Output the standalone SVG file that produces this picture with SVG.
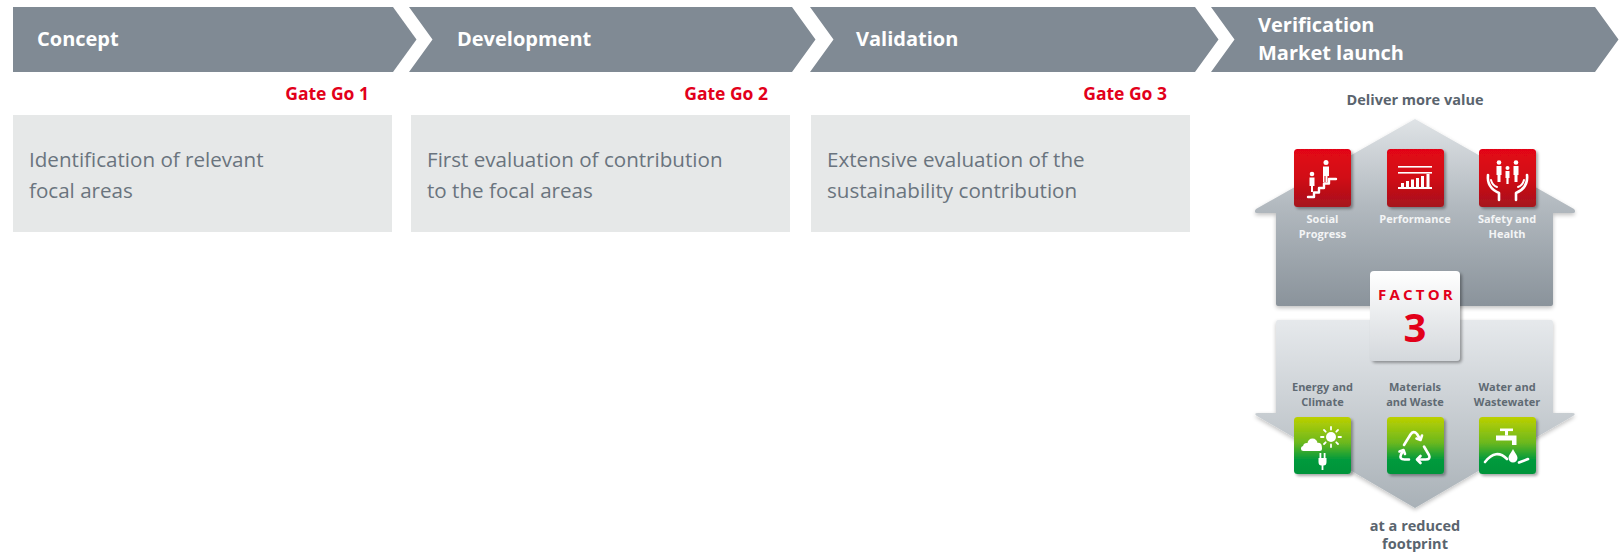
<svg xmlns="http://www.w3.org/2000/svg" width="1621" height="554" viewBox="0 0 1621 554">
<defs>
  <linearGradient id="gHouse" x1="0" y1="0" x2="0" y2="1">
    <stop offset="0" stop-color="#dfe3e6"/>
    <stop offset="0.45" stop-color="#b3bac0"/>
    <stop offset="1" stop-color="#8a939b"/>
  </linearGradient>
  <linearGradient id="gArrow" x1="0" y1="0" x2="0" y2="1">
    <stop offset="0" stop-color="#e6e9ec"/>
    <stop offset="1" stop-color="#a9b1b7"/>
  </linearGradient>
  <linearGradient id="gRed" x1="0" y1="0" x2="0" y2="1">
    <stop offset="0" stop-color="#e30613"/>
    <stop offset="0.5" stop-color="#d10a16"/>
    <stop offset="1" stop-color="#a5141c"/>
  </linearGradient>
  <linearGradient id="gGreen" x1="0" y1="0" x2="0" y2="1">
    <stop offset="0" stop-color="#bcd000"/>
    <stop offset="0.45" stop-color="#6cb81e"/>
    <stop offset="0.75" stop-color="#009a3c"/>
    <stop offset="1" stop-color="#00943a"/>
  </linearGradient>
  <linearGradient id="gFactor" x1="0" y1="0" x2="0" y2="1">
    <stop offset="0" stop-color="#ffffff"/>
    <stop offset="1" stop-color="#d4d8dc"/>
  </linearGradient>
  <filter id="shadow" x="-20%" y="-20%" width="150%" height="150%">
    <feGaussianBlur in="SourceAlpha" stdDeviation="1.6"/>
    <feOffset dx="1.5" dy="2" result="b"/>
    <feComponentTransfer><feFuncA type="linear" slope="0.35"/></feComponentTransfer>
    <feMerge><feMergeNode/><feMergeNode in="SourceGraphic"/></feMerge>
  </filter>
  <filter id="shadowSoft" x="-10%" y="-10%" width="120%" height="125%">
    <feGaussianBlur in="SourceAlpha" stdDeviation="2"/>
    <feOffset dx="0" dy="2"/>
    <feComponentTransfer><feFuncA type="linear" slope="0.25"/></feComponentTransfer>
    <feMerge><feMergeNode/><feMergeNode in="SourceGraphic"/></feMerge>
  </filter>
</defs>
<style>
  .chev { fill: #808a94; }
  .phase { font-family: "Open Sans", "Liberation Sans", sans-serif; font-weight: 700; font-size: 20px; fill: #ffffff; }
  .gate { font-family: "Open Sans", "Liberation Sans", sans-serif; font-weight: 700; font-size: 17.5px; fill: #e2001a; text-anchor: end; }
  .box { fill: #e6e8e8; }
  .boxtxt { font-family: "Open Sans", "Liberation Sans", sans-serif; font-weight: 400; font-size: 20.6px; fill: #6a747e; }
  .head { font-family: "Open Sans", "Liberation Sans", sans-serif; font-weight: 700; font-size: 14.5px; fill: #5a646e; text-anchor: middle; }
  .lblW { font-family: "Open Sans", "Liberation Sans", sans-serif; font-weight: 700; font-size: 11px; fill: #f3f4f5; text-anchor: middle; }
  .lblD { font-family: "Open Sans", "Liberation Sans", sans-serif; font-weight: 700; font-size: 11px; fill: #5f6a73; text-anchor: middle; }
  .ico { stroke: #ffffff; fill: none; stroke-linecap: round; stroke-linejoin: round; }
  .icf { fill: #ffffff; }
</style>

<g id="phase-concept">
  <path class="chev" d="M13,7 H393 L416.5,39.5 L393,72 H13 Z"/>
  <text class="phase" x="37" y="46">Concept</text>
</g>
<g id="phase-development">
  <path class="chev" d="M409,7 H792 L815.5,39.5 L792,72 H409 L432.5,39.5 Z"/>
  <text class="phase" x="457" y="46">Development</text>
</g>
<g id="phase-validation">
  <path class="chev" d="M810,7 H1195 L1218.5,39.5 L1195,72 H810 L833.5,39.5 Z"/>
  <text class="phase" x="856" y="46">Validation</text>
</g>
<g id="phase-verification">
  <path class="chev" d="M1211,7 H1595 L1618.5,39.5 L1595,72 H1211 L1234.5,39.5 Z"/>
  <text class="phase" x="1258" y="32">Verification</text>
  <text class="phase" x="1258" y="60">Market launch</text>
</g>

<g id="gate-1"><text class="gate" x="369" y="100">Gate Go 1</text></g>
<g id="gate-2"><text class="gate" x="768" y="100">Gate Go 2</text></g>
<g id="gate-3"><text class="gate" x="1167" y="100">Gate Go 3</text></g>

<g id="box-concept">
  <rect class="box" x="13" y="115" width="379" height="117"/>
  <text class="boxtxt" x="29" y="167">Identification of relevant</text>
  <text class="boxtxt" x="29" y="198">focal areas</text>
</g>
<g id="box-development">
  <rect class="box" x="411" y="115" width="379" height="117"/>
  <text class="boxtxt" x="427" y="167">First evaluation of contribution</text>
  <text class="boxtxt" x="427" y="198">to the focal areas</text>
</g>
<g id="box-validation">
  <rect class="box" x="811" y="115" width="379" height="117"/>
  <text class="boxtxt" x="827" y="167">Extensive evaluation of the</text>
  <text class="boxtxt" x="827" y="198">sustainability contribution</text>
</g>

<g id="connectors"></g>

<g id="factor3-graphic">
  <text class="head" x="1415" y="105">Deliver more value</text>
  <path id="house" filter="url(#shadowSoft)" fill="url(#gHouse)" d="M1415,119 L1574,209 Q1577,213 1572,213 L1553,213 L1553,304 Q1553,306 1551,306 L1278,306 Q1276,306 1276,304 L1276,213 L1258,213 Q1253,213 1256,209 Z"/>
  <path id="arrow" filter="url(#shadowSoft)" fill="url(#gArrow)" d="M1278,320 L1551,320 Q1553,320 1553,322 L1553,413 L1572,413 Q1577,413 1573,416 L1415,508 L1257,416 Q1253,413 1258,413 L1276,413 L1276,322 Q1276,320 1278,320 Z"/>

  <g id="icon-social-progress" transform="translate(1294,149)">
    <rect width="57" height="58" rx="3.5" fill="url(#gRed)" filter="url(#shadow)"/>
    <path class="ico" stroke-width="2.4" d="M14,48 H20 V43.5 H25 V39 H30 V34.5 H35 V30 H42"/>
    <circle class="icf" cx="18" cy="25" r="2.3"/>
    <path class="icf" d="M15.5,28.5 H20.5 V37 H19 V43 H17 V37 H15.5 Z"/>
    <circle class="icf" cx="32" cy="13.5" r="2.5"/>
    <path class="icf" d="M29,17.5 H35 V27 H33.5 V33 H31.5 V27 H30.5 V33 H29 Z"/>
  </g>
  <g id="icon-performance" transform="translate(1387,149)">
    <rect width="57" height="58" rx="3.5" fill="url(#gRed)" filter="url(#shadow)"/>
    <rect class="icf" x="11" y="17" width="34" height="1.6"/>
    <rect class="icf" x="11" y="23" width="34" height="1.6"/>
    <rect class="icf" x="11" y="38" width="34" height="2"/>
    <rect class="icf" x="14" y="34" width="3" height="4"/>
    <rect class="icf" x="19" y="32" width="3" height="6"/>
    <rect class="icf" x="24" y="30.5" width="3" height="7.5"/>
    <rect class="icf" x="29" y="29" width="3" height="9"/>
    <rect class="icf" x="34" y="27" width="3" height="11"/>
    <rect class="icf" x="39.5" y="25" width="3" height="13"/>
  </g>
  <g id="icon-safety-health" transform="translate(1479,149)">
    <rect width="57" height="58" rx="3.5" fill="url(#gRed)" filter="url(#shadow)"/>
    <circle class="icf" cx="20" cy="13.5" r="2.3"/>
    <path class="icf" d="M17.5,17 H22.5 V26 H21.5 V33 H18.5 V26 H17.5 Z"/>
    <circle class="icf" cx="28.5" cy="19" r="2"/>
    <path class="icf" d="M26.5,22 H30.5 V29 H29.6 V35 H27.4 V29 H26.5 Z"/>
    <circle class="icf" cx="37" cy="13.5" r="2.3"/>
    <path class="icf" d="M34.5,17 H39.5 V26 H38.5 V33 H35.5 V26 H34.5 Z"/>
    <path class="ico" stroke-width="2.6" d="M9,26 C8,35 13,41 20,44 V51"/>
    <path class="ico" stroke-width="2" d="M12,31 C13,35 15,37 18,38"/>
    <path class="ico" stroke-width="2.6" d="M48,26 C49,35 44,41 37,44 V51"/>
    <path class="ico" stroke-width="2" d="M45,31 C44,35 42,37 39,38"/>
  </g>
  <text class="lblW" x="1322.5" y="223">Social</text>
  <text class="lblW" x="1322.5" y="238">Progress</text>
  <text class="lblW" x="1415" y="223">Performance</text>
  <text class="lblW" x="1507" y="223">Safety and</text>
  <text class="lblW" x="1507" y="238">Health</text>

  <g id="factor-box" filter="url(#shadow)">
    <rect x="1370" y="271" width="90" height="90" rx="4" fill="url(#gFactor)"/>
  </g>
  <text x="1417" y="300" font-family="'Open Sans', 'Liberation Sans', sans-serif" font-weight="700" font-size="15" letter-spacing="3.2" fill="#e2001a" text-anchor="middle">FACTOR</text>
  <text x="1415" y="342" font-family="'Open Sans', 'Liberation Sans', sans-serif" font-weight="700" font-size="40" fill="#e2001a" text-anchor="middle">3</text>

  <text class="lblD" x="1322.5" y="391">Energy and</text>
  <text class="lblD" x="1322.5" y="406">Climate</text>
  <text class="lblD" x="1415" y="391">Materials</text>
  <text class="lblD" x="1415" y="406">and Waste</text>
  <text class="lblD" x="1507" y="391">Water and</text>
  <text class="lblD" x="1507" y="406">Wastewater</text>

  <g id="icon-energy-climate" transform="translate(1294,417)">
    <rect width="57" height="57" rx="3.5" fill="url(#gGreen)" filter="url(#shadow)"/>
    <circle class="icf" cx="13" cy="30" r="4"/>
    <circle class="icf" cx="18.5" cy="26.5" r="5"/>
    <circle class="icf" cx="24" cy="29.5" r="3.8"/>
    <rect class="icf" x="7" y="29" width="21" height="5" rx="2.5"/>
    <circle class="icf" cx="37" cy="20" r="5"/>
    <g class="ico" stroke-width="1.8">
      <path d="M37,10 V12.5 M37,27.5 V30 M27,20 H29.5 M44.5,20 H47 M30,13 L31.7,14.7 M42.3,25.3 L44,27 M44,13 L42.3,14.7 M31.7,25.3 L30,27"/>
    </g>
    <path class="icf" d="M24.5,41 H32.5 V45 Q32.5,48.5 29.5,48.5 H27.5 Q24.5,48.5 24.5,45 Z"/>
    <rect class="icf" x="25.5" y="36" width="1.8" height="5"/>
    <rect class="icf" x="29.7" y="36" width="1.8" height="5"/>
    <rect class="icf" x="27.6" y="48" width="1.8" height="5"/>
  </g>
  <g id="icon-materials-waste" transform="translate(1387,417)">
    <rect width="57" height="57" rx="3.5" fill="url(#gGreen)" filter="url(#shadow)"/>
    <g class="ico" stroke-width="2.6">
      <path d="M17,28 L23.5,17.5 Q26.5,13 30,17 L33,22"/>
      <path d="M29.5,21.5 L33.5,23 L35,18.5"/>
      <path d="M37,29.5 L42,38 Q44,42.5 38.5,42.5 L31,42.5"/>
      <path d="M33.5,39 L30,42.5 L33.5,46"/>
      <path d="M22,42.5 H17.5 Q12,42.5 14,37.5 L16,34"/>
      <path d="M12.5,34.5 L16.5,33 L18,37"/>
    </g>
  </g>
  <g id="icon-water-wastewater" transform="translate(1479,417)">
    <rect width="57" height="57" rx="3.5" fill="url(#gGreen)" filter="url(#shadow)"/>
    <rect class="icf" x="21" y="11.5" width="13" height="2.6"/>
    <rect class="icf" x="26" y="13.5" width="3" height="5"/>
    <path class="icf" d="M17,18.5 H37.5 V28 H33 V23.5 H17 Z"/>
    <path class="icf" d="M34,32 C36,36 38.5,38.5 38.5,41 A4.5,4.5 0 0 1 29.5,41 C29.5,38.5 32,36 34,32 Z"/>
    <path class="ico" stroke-width="2.6" d="M6,45 Q17,31 28,42"/>
    <path class="ico" stroke-width="2.6" d="M40,45.5 L49,42"/>
  </g>

  <text class="head" x="1415" y="531">at a reduced</text>
  <text class="head" x="1415" y="549">footprint</text>
</g>
</svg>
